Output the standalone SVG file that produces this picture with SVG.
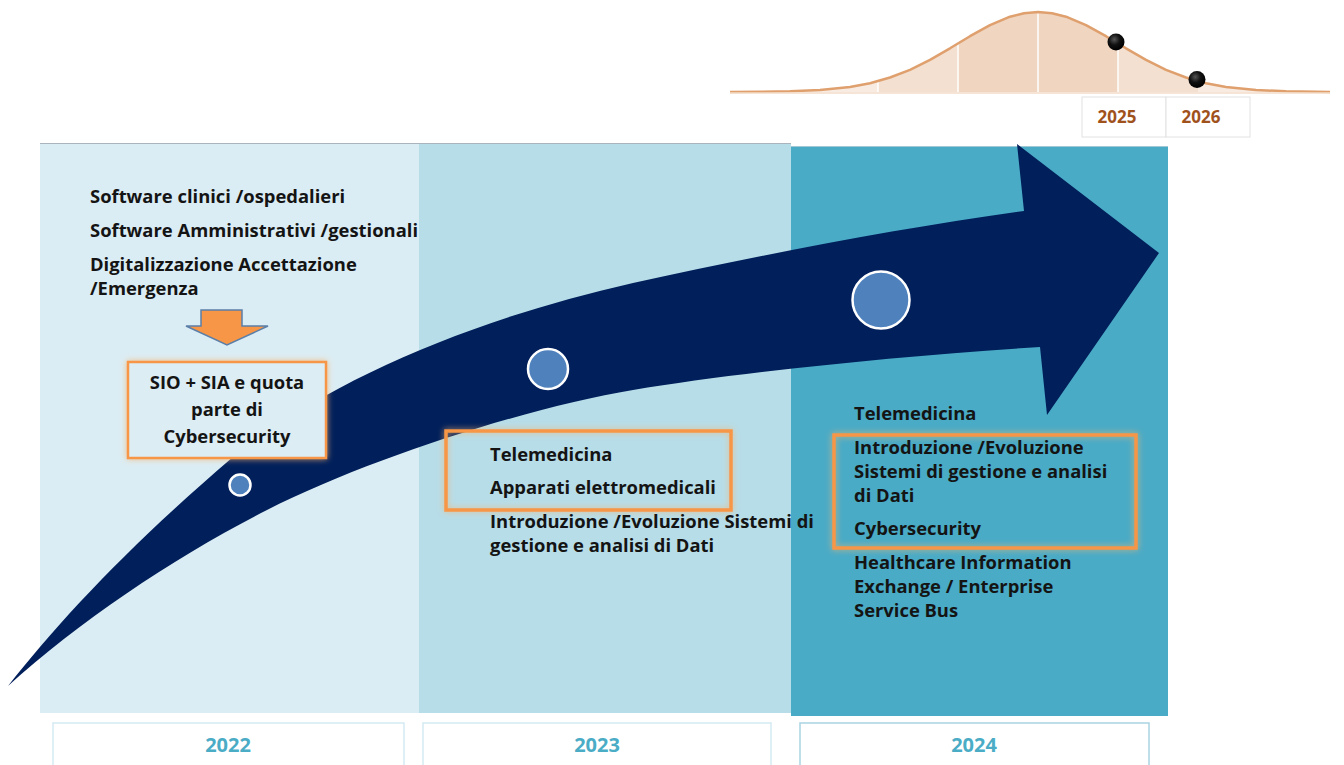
<svg xmlns="http://www.w3.org/2000/svg" width="1344" height="765" viewBox="0 0 1344 765">
<style>
.t{font-family:"Open Sans","Liberation Sans",sans-serif;font-weight:700;font-size:18.4px;fill:#141414}
.yr{font-family:"Open Sans","Liberation Sans",sans-serif;font-weight:700;font-size:20px;fill:#4bacc6;text-anchor:middle}
.yr2{font-family:"Open Sans","Liberation Sans",sans-serif;font-weight:700;font-size:17px;fill:#a0521d;text-anchor:middle}
.ybox{fill:#ffffff;stroke:#d3eaf2;stroke-width:1.5}
.obox{fill:none;stroke:#f79646;stroke-width:3.5}
.dot{fill:#4f81bd;stroke:#ffffff;stroke-width:2.5}
.vl{stroke:#ffffff;stroke-width:1.5}
.bd{fill:url(#ball)}
</style>
<defs>
<filter id="glow" x="-10%" y="-20%" width="120%" height="140%">
<feGaussianBlur in="SourceAlpha" stdDeviation="3" result="a"/>
<feFlood flood-color="#f9b36b" flood-opacity="0.8"/>
<feComposite in2="a" operator="in" result="g"/>
<feMerge><feMergeNode in="g"/><feMergeNode in="SourceGraphic"/></feMerge>
</filter>
<radialGradient id="ball" cx="0.4" cy="0.35" r="0.65">
<stop offset="0" stop-color="#555"/>
<stop offset="0.5" stop-color="#111"/>
<stop offset="1" stop-color="#000"/>
</radialGradient>
<clipPath id="bell">
<path d="M730,92 L760,91.8 L790,91.3 L820,90 L850,86.9 L870,83.2 L890,77.5 L910,69.8 L930,59.8 L950,48.3 L970,36.2 L990,25.2 L1010,16.7 L1024,13.2 L1038,12 L1052,13.2 L1066,16.7 L1086,25.2 L1106,36.2 L1126,48.3 L1146,59.8 L1166,69.8 L1186,77.5 L1206,83.2 L1226,86.9 L1256,90 L1286,91.3 L1316,91.8 L1330,92 Z"/>
</clipPath>
</defs>
<rect width="1344" height="765" fill="#ffffff"/>

<g id="bell-curve">
<g clip-path="url(#bell)">
<rect x="728" y="0" width="150" height="93" fill="#f8ebe1"/>
<rect x="878" y="0" width="80" height="93" fill="#f4e0d0"/>
<rect x="958" y="0" width="160" height="93" fill="#f0d5c0"/>
<rect x="1118" y="0" width="80" height="93" fill="#f4e0d0"/>
<rect x="1198" y="0" width="140" height="93" fill="#f8ebe1"/>
</g>
<line class="vl" x1="878" y1="77" x2="878" y2="92"/>
<line class="vl" x1="958" y1="44" x2="958" y2="92"/>
<line class="vl" x1="1038" y1="13" x2="1038" y2="92"/>
<line class="vl" x1="1118" y1="44" x2="1118" y2="92"/>
<path d="M730,92 L760,91.8 L790,91.3 L820,90 L850,86.9 L870,83.2 L890,77.5 L910,69.8 L930,59.8 L950,48.3 L970,36.2 L990,25.2 L1010,16.7 L1024,13.2 L1038,12 L1052,13.2 L1066,16.7 L1086,25.2 L1106,36.2 L1126,48.3 L1146,59.8 L1166,69.8 L1186,77.5 L1206,83.2 L1226,86.9 L1256,90 L1286,91.3 L1316,91.8 L1330,92" fill="none" stroke="#dfa06e" stroke-width="2.5" stroke-linejoin="round"/>
<line x1="730" y1="93" x2="1330" y2="93" stroke="#f3dcc9" stroke-width="1.5"/>
<circle class="bd" cx="1116" cy="42" r="8.5"/>
<circle class="bd" cx="1197" cy="79.5" r="8.5"/>
</g>

<g id="year-2025">
<rect x="1082" y="97" width="84" height="40" fill="#fff" stroke="#e2e2e2" stroke-width="1"/>
<text class="yr2" x="1117" y="123">2025</text>
</g>
<g id="year-2026">
<rect x="1166" y="97" width="84" height="40" fill="#fff" stroke="#e2e2e2" stroke-width="1"/>
<text class="yr2" x="1201" y="123">2026</text>
</g>

<g id="panel-2022">
<rect x="40" y="143" width="379" height="570" fill="#dbedf4"/>
</g>
<g id="panel-2023">
<rect x="419" y="143" width="372" height="570" fill="#b7dde8"/>
</g>
<g id="panel-2024">
<rect x="791" y="146" width="377" height="570" fill="#4aabc6"/>
</g>
<line x1="40" y1="143.5" x2="791" y2="143.5" stroke="#aab4bd" stroke-width="1"/>
<line x1="791" y1="146.5" x2="1168" y2="146.5" stroke="#9fc7d4" stroke-width="1"/>

<g id="connectors">
<path d="M8,686 C60,620 130,545 233,457 C330,380 470,320 633,283 C760,255 900,228 1024,211 L1017,144 L1159,253 L1047,415 L1040,347 C900,356 740,372 633,390 C530,407 370,458 267,510 C180,554 80,620 8,686 Z" fill="#001f5b"/>
<path d="M201,310 L242,310 L242,326 L268,326 L227,345 L186,326 L201,326 Z" fill="#f79646" stroke="#5b7fa8" stroke-width="1.5" stroke-linejoin="miter"/>
</g>

<g id="milestones">
<circle class="dot" cx="240" cy="485" r="10.5"/>
<circle class="dot" cx="548" cy="369" r="20"/>
<circle class="dot" cx="881" cy="300" r="28.5"/>
</g>

<g id="list-2022">
<text class="t" x="90" y="203">Software clinici /ospedalieri</text>
<text class="t" x="90" y="237">Software Amministrativi /gestionali</text>
<text class="t" x="90" y="271">Digitalizzazione Accettazione</text>
<text class="t" x="90" y="295">/Emergenza</text>
</g>

<g id="box-2022">
<rect x="128" y="362" width="198" height="96" fill="#dcedf3" stroke="#f79646" stroke-width="2.5" filter="url(#glow)"/>
<text class="t" x="227" y="389" text-anchor="middle">SIO + SIA e quota</text>
<text class="t" x="227" y="416" text-anchor="middle">parte di</text>
<text class="t" x="227" y="443" text-anchor="middle">Cybersecurity</text>
</g>

<g id="box-2023">
<rect class="obox" x="446" y="431" width="285" height="79" filter="url(#glow)"/>
<text class="t" x="490" y="461">Telemedicina</text>
<text class="t" x="490" y="494">Apparati elettromedicali</text>
</g>
<g id="list-2023">
<text class="t" x="490" y="528">Introduzione /Evoluzione Sistemi di</text>
<text class="t" x="490" y="552">gestione e analisi di Dati</text>
</g>

<g id="list-2024-top">
<text class="t" x="854" y="420">Telemedicina</text>
</g>
<g id="box-2024">
<rect class="obox" x="834" y="435" width="302" height="113" filter="url(#glow)"/>
<text class="t" x="854" y="454">Introduzione /Evoluzione</text>
<text class="t" x="854" y="478">Sistemi di gestione e analisi</text>
<text class="t" x="854" y="502">di Dati</text>
<text class="t" x="854" y="535">Cybersecurity</text>
</g>
<g id="list-2024">
<text class="t" x="854" y="569">Healthcare Information</text>
<text class="t" x="854" y="593">Exchange / Enterprise</text>
<text class="t" x="854" y="617">Service Bus</text>
</g>

<g id="year-2022">
<rect class="ybox" x="53" y="723" width="351" height="50"/>
<text class="yr" x="228" y="752">2022</text>
</g>
<g id="year-2023">
<rect class="ybox" x="423" y="723" width="348" height="50"/>
<text class="yr" x="597" y="752">2023</text>
</g>
<g id="year-2024">
<rect class="ybox" x="800" y="723" width="349" height="50" style="stroke:#a9d5e2"/>
<text class="yr" x="974" y="752">2024</text>
</g>
</svg>
